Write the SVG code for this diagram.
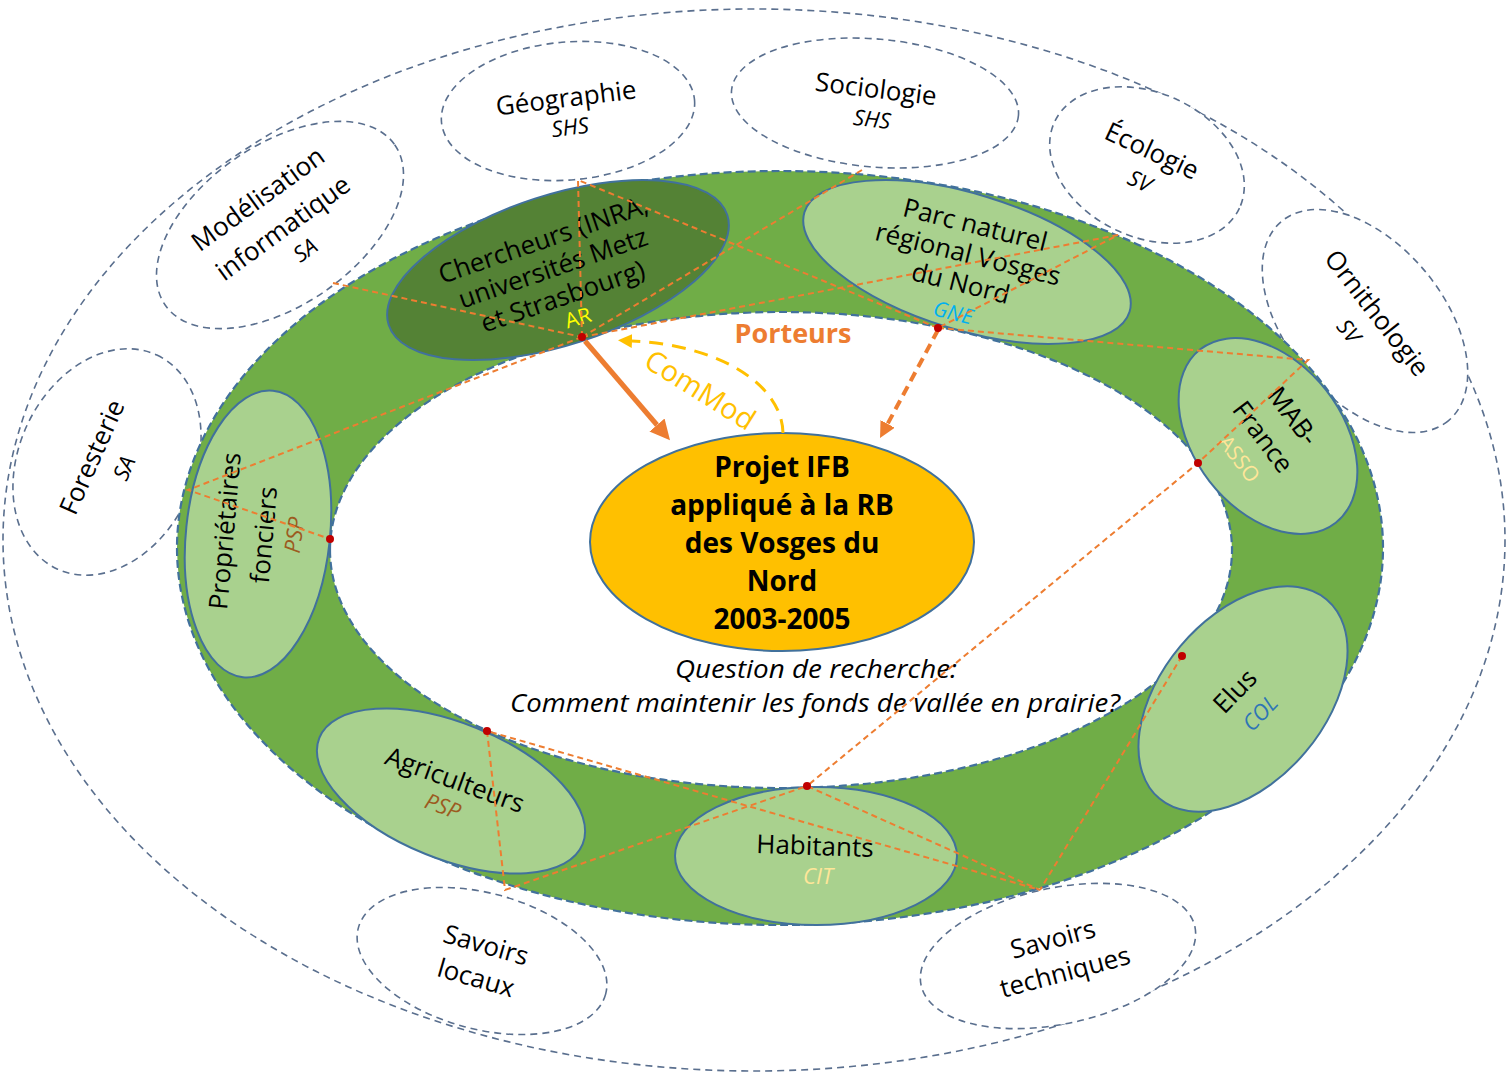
<svg xmlns="http://www.w3.org/2000/svg" width="1508" height="1074" viewBox="0 0 1508 1074">
<defs>
<style>
.sat{fill:#fff;stroke:#5a6f8e;stroke-width:1.6;stroke-dasharray:7 5}
.node{fill:#a9d18e;stroke:#41719c;stroke-width:2}
.t{font-family:"Open Sans",Lato,sans-serif;font-size:26px;text-anchor:middle;fill:#000}
.n{font-size:26px}
.i{font-style:italic;font-size:22px}
.b{font-weight:bold;font-size:28px}
.lk{stroke:#ed7d31;stroke-width:2;stroke-dasharray:6 4;fill:none}
.dot{fill:#c00000}
</style>
<marker id="ao" markerUnits="userSpaceOnUse" viewBox="0 0 10 10" markerWidth="20" markerHeight="20" refX="0" refY="5" orient="auto"><path d="M0,0 L10,5 L0,10 z" fill="#ed7d31"/></marker>
<marker id="ao2" markerUnits="userSpaceOnUse" viewBox="0 0 10 10" markerWidth="16" markerHeight="16" refX="0" refY="5" orient="auto"><path d="M0,0 L10,5 L0,10 z" fill="#ed7d31"/></marker>
<marker id="ay" markerUnits="userSpaceOnUse" viewBox="0 0 10 10" markerWidth="14" markerHeight="14" refX="0" refY="5" orient="auto"><path d="M0,0 L10,5 L0,10 z" fill="#ffc000"/></marker>
</defs>
<rect width="1508" height="1074" fill="#fff"/>
<ellipse id="outer" cx="754" cy="540" rx="751" ry="531" fill="none" stroke="#5a6f8e" stroke-width="1.6" stroke-dasharray="7 5"/>

<g id="geographie"><ellipse class="sat" cx="568" cy="111" rx="127" ry="69" transform="rotate(-5 568 111)"/>
<text class="t" transform="translate(566,98) rotate(-7)" y="9">Géographie</text>
<text class="t i" transform="translate(570,127) rotate(-7)" y="8">SHS</text></g>
<g id="sociologie"><ellipse class="sat" cx="875" cy="103" rx="144" ry="64" transform="rotate(5 875 103)"/>
<text class="t" transform="translate(876,89) rotate(7)" y="9">Sociologie</text>
<text class="t i" transform="translate(872,119) rotate(7)" y="8">SHS</text></g>
<g id="ecologie"><ellipse class="sat" cx="1147" cy="165" rx="102" ry="72" transform="rotate(25 1147 165)"/>
<text class="t" transform="translate(1152,151) rotate(25)" y="9">Écologie</text>
<text class="t i" transform="translate(1140,181) rotate(25)" y="8">SV</text></g>
<g id="ornithologie"><ellipse class="sat" cx="1365" cy="321" rx="130" ry="78" transform="rotate(50 1365 321)"/>
<text class="t" transform="translate(1377,313) rotate(52)" y="9">Ornithologie</text>
<text class="t i" transform="translate(1349,331) rotate(52)" y="8">SV</text></g>
<g id="modelisation"><ellipse class="sat" cx="280" cy="225" rx="140" ry="80" transform="rotate(-35 280 225)"/>
<text class="t" transform="translate(258,199) rotate(-36)" y="9">Modélisation</text>
<text class="t" transform="translate(283,228) rotate(-36)" y="9">informatique</text>
<text class="t i" transform="translate(305,250) rotate(-36)" y="8">SA</text></g>
<g id="foresterie"><ellipse class="sat" cx="107" cy="462" rx="118" ry="88" transform="rotate(-65 107 462)"/>
<text class="t" transform="translate(92,457) rotate(-66)" y="9">Foresterie</text>
<text class="t i" transform="translate(124,468) rotate(-66)" y="8">SA</text></g>
<g id="savoirs-locaux"><ellipse class="sat" cx="482" cy="961" rx="128" ry="68" transform="rotate(15 482 961)"/>
<text class="t" transform="translate(486,945) rotate(16)" y="9">Savoirs</text>
<text class="t" transform="translate(476,978) rotate(16)" y="9">locaux</text></g>
<g id="savoirs-techniques"><ellipse class="sat" cx="1058" cy="956" rx="140" ry="68" transform="rotate(-12 1058 956)"/>
<text class="t" transform="translate(1053,939) rotate(-15)" y="9">Savoirs</text>
<text class="t" transform="translate(1065,972) rotate(-15)" y="9">techniques</text></g>

<path id="ring" d="M177,548 a603,377 0 1,0 1206,0 a603,377 0 1,0 -1206,0 Z M330,550 a451,238 0 1,0 902,0 a451,238 0 1,0 -902,0 Z" fill="#70ad47" fill-rule="evenodd" stroke="#41719c" stroke-width="2.2" stroke-dasharray="8 4"/>

<g id="chercheurs"><ellipse class="node" cx="558" cy="270" rx="178" ry="75" transform="rotate(-18 558 270)" style="fill:#548235"/>
<g transform="translate(553,268) rotate(-19)">
<text class="t n" y="-21">Chercheurs (INRA,</text>
<text class="t n" y="9">universités Metz</text>
<text class="t n" y="39">et Strasbourg)</text></g>
<text class="t" transform="translate(578,318) rotate(-17)" y="7" style="font-size:21px;fill:#ffff00">AR</text></g>

<g id="parc"><ellipse class="node" cx="967" cy="262" rx="170" ry="68" transform="rotate(17 967 262)"/>
<g transform="translate(968,254) rotate(14)">
<text class="t n" y="-21">Parc naturel</text>
<text class="t n" y="9">régional Vosges</text>
<text class="t n" y="39">du Nord</text></g>
<text class="t i" transform="translate(953,313) rotate(14)" y="7" style="font-size:21px;fill:#00b0f0">GNE</text></g>

<g id="mab"><ellipse class="node" cx="1268" cy="436" rx="110" ry="74" transform="rotate(52 1268 436)"/>
<text class="t n" transform="translate(1293,416) rotate(53)" y="9">MAB-</text>
<text class="t n" transform="translate(1263,437) rotate(53)" y="9">France</text>
<text class="t" transform="translate(1239,459) rotate(53)" y="7" style="font-size:21px;fill:#ffe699">ASSO</text></g>

<g id="elus"><ellipse class="node" cx="1243" cy="699" rx="130" ry="82" transform="rotate(-50 1243 699)"/>
<text class="t n" transform="translate(1235,691) rotate(-46)" y="9">Elus</text>
<text class="t i" transform="translate(1260,713) rotate(-46)" y="8" style="fill:#2e75b6">COL</text></g>

<g id="habitants"><ellipse class="node" cx="816" cy="856" rx="141" ry="69"/>
<text class="t n" transform="translate(815,846) rotate(2)" y="9">Habitants</text>
<text class="t i" x="818" y="884" style="fill:#ffe699">CIT</text></g>

<g id="agriculteurs"><ellipse class="node" cx="451" cy="791" rx="142" ry="68" transform="rotate(22 451 791)"/>
<text class="t n" transform="translate(455,780) rotate(20)" y="9">Agriculteurs</text>
<text class="t i" transform="translate(443,806) rotate(20)" y="8" style="fill:#9c5b1f">PSP</text></g>

<g id="proprietaires"><ellipse class="node" cx="258" cy="534" rx="72" ry="144" transform="rotate(6 258 534)"/>
<text class="t n" transform="translate(225,531) rotate(-85)" y="9">Propriétaires</text>
<text class="t n" transform="translate(264,535) rotate(-85)" y="9">fonciers</text>
<text class="t i" transform="translate(294,535) rotate(-82)" y="8" style="fill:#9c5b1f">PSP</text></g>

<g id="projet"><ellipse cx="782" cy="542" rx="192" ry="109" fill="#ffc000" stroke="#41719c" stroke-width="2"/>
<text class="t b" x="782" y="477">Projet IFB</text>
<text class="t b" x="782" y="515">appliqué à la RB</text>
<text class="t b" x="782" y="553">des Vosges du</text>
<text class="t b" x="782" y="591">Nord</text>
<text class="t b" x="782" y="629">2003-2005</text></g>

<g id="question">
<text class="t i" x="816" y="678" style="font-size:26px" textLength="282" lengthAdjust="spacingAndGlyphs">Question de recherche:</text>
<text class="t i" x="815" y="712" style="font-size:26px" textLength="610" lengthAdjust="spacingAndGlyphs">Comment maintenir les fonds de vallée en prairie?</text></g>

<g id="connectors">
<polyline class="lk" points="582,337 578,180 938,328"/>
<line class="lk" x1="582" y1="337" x2="862" y2="170"/>
<line class="lk" x1="333" y1="283" x2="582" y2="337"/>
<polyline class="lk" points="582,337 1118,235 938,328"/>
<polyline class="lk" points="582,337 188,490 330,539"/>
<polyline class="lk" points="938,328 1308,360 1198,463 807,786"/>
<line class="lk" x1="1182" y1="656" x2="1040" y2="890"/>
<polyline class="lk" points="487,731 505,890 807,786 1040,890 487,731"/>
<line x1="585" y1="341" x2="657" y2="425" stroke="#ed7d31" stroke-width="5" marker-end="url(#ao)"/>
<line x1="938" y1="330" x2="887.6" y2="423.9" stroke="#ed7d31" stroke-width="4" stroke-dasharray="10 6" marker-end="url(#ao2)"/>
<path d="M783,433 C782,385 720,345 632,341" fill="none" stroke="#ffc000" stroke-width="3" stroke-dasharray="14 9" marker-end="url(#ay)"/>
</g>
<g id="dots">
<circle class="dot" cx="582" cy="337" r="4"/>
<circle class="dot" cx="938" cy="328" r="4"/>
<circle class="dot" cx="330" cy="539" r="4"/>
<circle class="dot" cx="1198" cy="463" r="4"/>
<circle class="dot" cx="1182" cy="656" r="4"/>
<circle class="dot" cx="807" cy="786" r="4"/>
<circle class="dot" cx="487" cy="731" r="4"/>
</g>
<text class="t" x="793" y="343" style="font-weight:bold;font-size:27px;fill:#ed7d31">Porteurs</text>
<text class="t" transform="translate(700,390) rotate(32)" y="10" style="font-size:29px;fill:#ffc000">ComMod</text>
</svg>
